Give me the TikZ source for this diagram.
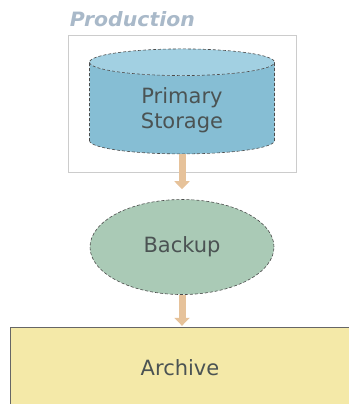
\documentclass[tikz,border=0pt]{standalone}
\usepackage{fontspec}
\usepackage{graphicx}
\setmainfont{DejaVu Sans}
\newfontfamily\prodfont{DejaVu Sans Bold Oblique}
\usetikzlibrary{shapes.geometric,arrows.meta,positioning}

\definecolor{storeblue}{HTML}{86BED4}
\definecolor{storetop}{HTML}{A2D0E2}
\definecolor{backupgreen}{HTML}{AACAB6}
\definecolor{archiveyellow}{HTML}{F4E9A8}
\definecolor{flowtan}{HTML}{E6C29A}
\definecolor{labelgray}{HTML}{4B5353}
\definecolor{prodgray}{HTML}{A9B9C9}

\begin{document}
\begin{tikzpicture}[x=1pt,y=-1pt,
    label/.style={font=\fontsize{21}{25}\selectfont, text=labelgray, align=center},
    outline/.style={draw=black!70, densely dashed, line width=0.6pt},
    store/.style={cylinder, shape border rotate=90, aspect=0.3,
        minimum width=185pt, minimum height=105pt, cylinder uses custom fill,
        cylinder body fill=storeblue, cylinder end fill=storetop, outline, label},
    backupnode/.style={ellipse, minimum width=184pt, minimum height=95pt,
        fill=backupgreen, outline, label},
    archivebox/.style={rectangle, minimum width=340pt, minimum height=82pt,
        fill=archiveyellow, draw=black!60, line width=0.6pt, label},
    flow/.style={line width=7pt, draw=flowtan, -{Triangle[width=15pt,length=8pt]}}
]
\useasboundingbox (0,0) rectangle (348,404);

% production area
\node[draw=black!20, line width=0.8pt, minimum width=228pt, minimum height=137pt] (prod) at (182,103.5) {};
\node[anchor=south west, inner sep=0pt, font=\prodfont, text=prodgray]
    (prodlabel) at ([xshift=2pt,yshift=8pt]prod.north west) {\resizebox{125pt}{15pt}{Production}};

% storage chain
\node[store] (storage) at (182,110) {Primary\\Storage};
\node[backupnode, below=45pt of storage] (backup) {Backup};
\node[archivebox, below=32pt of backup, xshift=-2pt] (archive) {Archive};

\draw[flow, shorten >=10pt] (storage.bottom) -- (backup.north);
\draw[flow, shorten >=1pt] (backup.south) -- (backup.south |- archive.north);
\end{tikzpicture}
\end{document}
